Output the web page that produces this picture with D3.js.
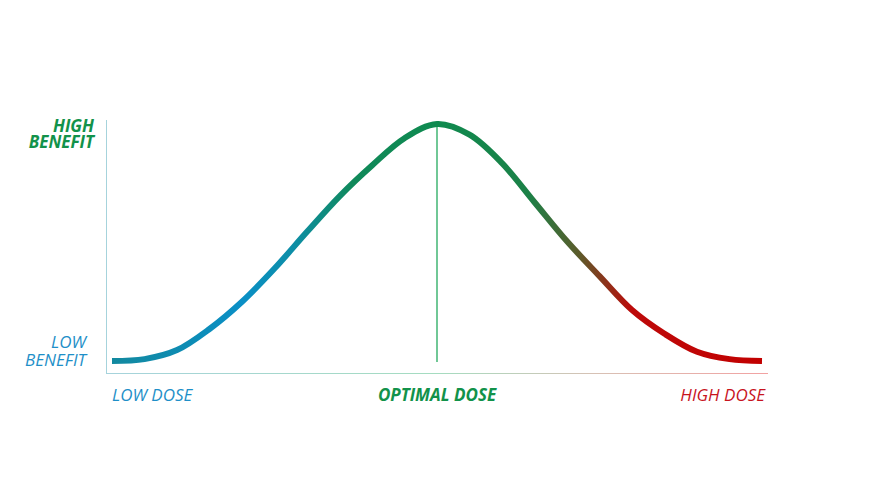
<!DOCTYPE html>
<html>
<head>
<meta charset="utf-8">
<script src="https://cdn.jsdelivr.net/npm/d3@7"></script>
<style>
  html, body { margin: 0; padding: 0; background: #ffffff; }
  svg { display: block; }
  text { font-family: "Open Sans", "Lato", sans-serif; font-style: italic; }
</style>
</head>
<body>
<svg id="chart" width="872" height="491"></svg>
<script>
// Data (dose 0–100, benefit 0–100)
const doses    = [0, 5, 10, 15, 20, 25, 30, 35, 40, 45, 50, 55, 60, 65, 70, 75, 80, 85, 90, 95, 100];
const benefits = [0, 0.8, 4.6, 13.5, 25, 39, 54.5, 69.5, 82.5, 94, 100, 95.5, 83.5, 67, 50.5, 35.8, 21.5, 11.5, 3.9, 0.8, 0];
const optimalDose = 50;
const xLabels = ["LOW DOSE", "OPTIMAL DOSE", "HIGH DOSE"];
const yLabels = [["LOW", "BENEFIT"], ["HIGH", "BENEFIT"]];

const svg = d3.select("#chart");
const x = d3.scaleLinear().domain([0, 100]).range([112, 762]);
const y = d3.scaleLinear().domain([0, 100]).range([361, 124]);

const defs = svg.append("defs");
const curveGrad = defs.append("linearGradient")
  .attr("id", "curveGrad").attr("gradientUnits", "userSpaceOnUse")
  .attr("x1", x(0)).attr("x2", x(100)).attr("y1", 0).attr("y2", 0);
[[0, "#12899f"], [0.12, "#0d8cb5"], [0.2, "#0a8fc6"], [0.28, "#0d8ea6"], [0.37, "#10895a"],
 [0.5, "#0f8a4f"], [0.64, "#1b8147"], [0.72, "#5d5a2a"], [0.8, "#bd0a0a"], [1, "#c20000"]]
  .forEach(([o, c]) => curveGrad.append("stop").attr("offset", o).attr("stop-color", c));

const axisGrad = defs.append("linearGradient")
  .attr("id", "axisGrad").attr("gradientUnits", "userSpaceOnUse")
  .attr("x1", 106).attr("x2", 768).attr("y1", 0).attr("y2", 0);
[[0, "#a6d3dc"], [0.5, "#a5dcc0"], [0.75, "#d9c0b4"], [1, "#f2a2a2"]]
  .forEach(([o, c]) => axisGrad.append("stop").attr("offset", o).attr("stop-color", c));

// axes
svg.append("line").attr("x1", 106.5).attr("x2", 106.5).attr("y1", 120).attr("y2", 374)
  .attr("stroke", "#a6d3dc").attr("stroke-width", 1);
svg.append("line").attr("x1", 106).attr("x2", 768).attr("y1", 373.5).attr("y2", 373.5)
  .attr("stroke", "url(#axisGrad)").attr("stroke-width", 1.2);

// optimal dose line
svg.append("line").attr("x1", x(optimalDose)).attr("x2", x(optimalDose))
  .attr("y1", y(100)).attr("y2", 362)
  .attr("stroke", "#4dba7c").attr("stroke-width", 1.6);

// curve
const data = doses.map((d, i) => ({ d, b: benefits[i] }));
const line = d3.line().x(p => x(p.d)).y(p => y(p.b)).curve(d3.curveCatmullRom.alpha(0.5));
svg.append("path").datum(data).attr("d", line)
  .attr("fill", "none").attr("stroke", "url(#curveGrad)")
  .attr("stroke-width", 6).attr("stroke-linecap", "butt");

// y labels (two lines each, one text element)
const fs = 17;
function twoLine(lines, xr, y1, dy, weight, color) {
  const t = svg.append("text").attr("text-anchor", "end")
    .attr("font-size", fs).attr("font-weight", weight).attr("fill", color);
  t.append("tspan").attr("x", xr).attr("y", y1).text(lines[0]);
  t.append("tspan").attr("x", xr).attr("dy", dy).text(lines[1]);
}
twoLine(yLabels[1], 94, 131.5, 16.7, 700, "#12924a");
twoLine(yLabels[0], 86, 348.3, 17.7, 400, "#1e8fc8");

// x labels
svg.append("text").attr("x", 112).attr("y", 401).attr("text-anchor", "start")
  .attr("font-size", fs).attr("font-weight", 400).attr("fill", "#1e8fc8").text(xLabels[0]);
svg.append("text").attr("x", x(optimalDose)).attr("y", 401).attr("text-anchor", "middle")
  .attr("font-size", fs).attr("font-weight", 700).attr("fill", "#12924a").text(xLabels[1]);
svg.append("text").attr("x", 765).attr("y", 401).attr("text-anchor", "end")
  .attr("font-size", fs).attr("font-weight", 400).attr("fill", "#c8141e").text(xLabels[2]);
</script>
</body>
</html>
